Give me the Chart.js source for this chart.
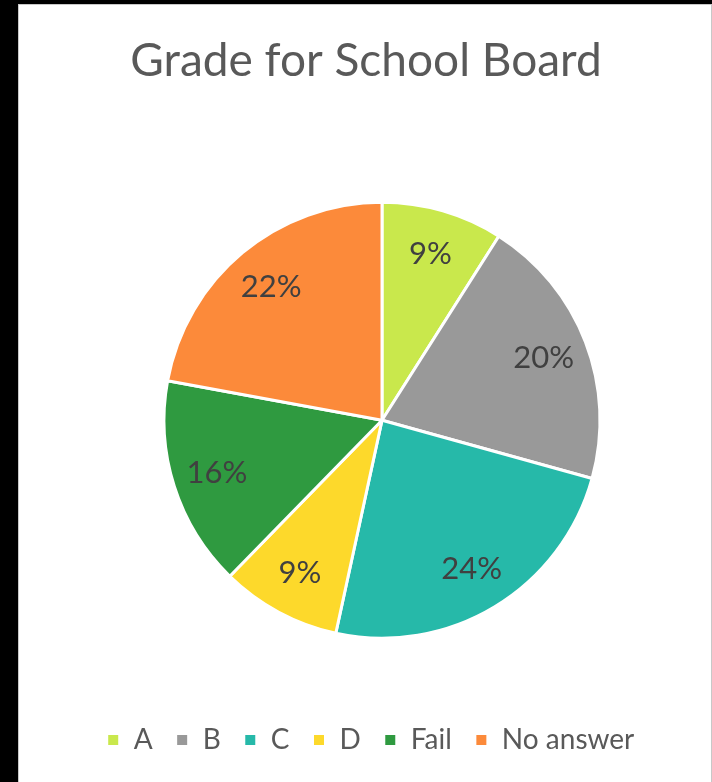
<!DOCTYPE html>
<html>
<head>
<meta charset="utf-8">
<script src="https://cdn.jsdelivr.net/npm/chart.js@4"></script>
<style>
  html, body { margin: 0; padding: 0; background: #000; width: 712px; height: 782px; overflow: hidden; }
  #panel { position: absolute; left: 18px; top: 4px; width: 692px; height: 778px;
           background: #fff; border-left: 1px solid #c8c8c8; border-top: 1px solid #c8c8c8; border-right: 1px solid #c8c8c8; }
  #wrap { position: absolute; left: 0; top: 0; width: 692px; height: 777px; }
</style>
</head>
<body>
<div id="panel"><div id="wrap"><canvas id="c"></canvas></div></div>
<script>
const chartTitle = "Grade for School Board";
const categories = ["A", "B", "C", "D", "Fail", "No answer"];
const shares = [9.0, 20.3, 24.1, 8.9, 15.6, 22.1];
const sliceColors = ["#C9E84C", "#999999", "#26B9A9", "#FDD92B", "#2F9A40", "#FC8A3A"];

const FONT = "Lato, 'Open Sans', sans-serif";

const sliceLabels = {
  id: 'sliceLabels',
  afterDatasetsDraw(chart) {
    const ctx = chart.ctx;
    const meta = chart.getDatasetMeta(0);
    const data = chart.data.datasets[0].data;
    const total = data.reduce((a, b) => a + b, 0);
    ctx.save();
    ctx.font = "31px " + FONT;
    ctx.fillStyle = "#404040";
    ctx.textAlign = "center";
    ctx.textBaseline = "middle";
    meta.data.forEach((arc, i) => {
      const p = arc.getProps(['x', 'y', 'startAngle', 'endAngle', 'outerRadius'], true);
      const mid = (p.startAngle + p.endAngle) / 2;
      const r = p.outerRadius * 0.795;
      const pct = Math.round(data[i] / total * 100) + "%";
      ctx.fillText(pct, p.x + Math.cos(mid) * r, p.y + Math.sin(mid) * r);
    });
    ctx.restore();
  }
};

const shiftBoxes = {
  id: 'shiftBoxes',
  afterLayout(chart) {
    if (chart.titleBlock) { chart.titleBlock.left -= 16; chart.titleBlock.right -= 16; }
    if (chart.legend) { chart.legend.left -= 11.5; chart.legend.right -= 11.5; }
  }
};

new Chart(document.getElementById('c'), {
  type: 'pie',
  data: {
    labels: categories,
    datasets: [{
      data: shares,
      backgroundColor: sliceColors,
      borderColor: '#ffffff',
      borderWidth: 3,
      hoverOffset: 0
    }]
  },
  options: {
    responsive: true,
    maintainAspectRatio: false,
    animation: false,
    radius: 218,
    layout: { padding: { left: 34, right: 0, top: 0, bottom: 18 } },
    plugins: {
      title: {
        display: true,
        text: chartTitle,
        color: '#595959',
        font: { family: FONT, size: 46, weight: 'normal', lineHeight: 1.2 },
        padding: { top: 28.4, bottom: 48.9 }
      },
      legend: {
        position: 'bottom',
        labels: {
          color: '#595959',
          font: { family: FONT, size: 28 },
          boxWidth: 13,
          boxHeight: 13,
          padding: 23
        }
      },
      tooltip: { enabled: false }
    }
  },
  plugins: [sliceLabels, shiftBoxes]
});
</script>
</body>
</html>
